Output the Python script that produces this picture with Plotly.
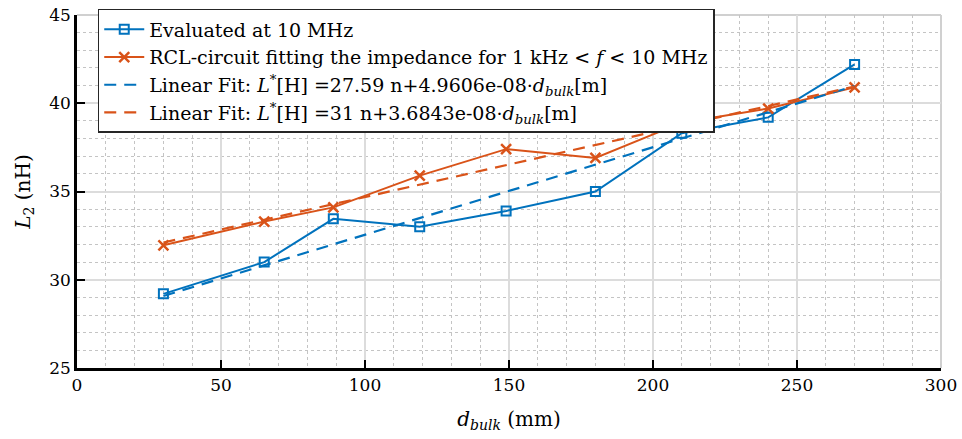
import plotly.graph_objects as go

d_bulk = [30, 65, 89, 119, 149, 180, 210, 240, 270]
L_eval = [29.2, 31.0, 33.45, 33.0, 33.9, 35.0, 38.3, 39.2, 42.2]
L_rcl = [31.95, 33.3, 34.1, 35.9, 37.4, 36.9, 38.9, 39.7, 40.9]
fit_x = [30, 270]
fit_eval = [29.08, 40.98]
fit_rcl = [32.11, 40.95]

x_ticks = [0, 50, 100, 150, 200, 250, 300]
y_ticks = [25, 30, 35, 40, 45]

BLUE = "#0072BD"
ORANGE = "#D95319"
FONT = "DejaVu Serif"

fig = go.Figure()
fig.add_trace(go.Scatter(
    x=d_bulk, y=L_eval, mode="lines+markers",
    name="Evaluated at 10 MHz",
    line=dict(color=BLUE, width=2),
    marker=dict(symbol="square-open", size=9, color=BLUE, line=dict(width=2, color=BLUE)),
))
fig.add_trace(go.Scatter(
    x=d_bulk, y=L_rcl, mode="lines+markers",
    name="RCL-circuit fitting the impedance for 1 kHz &lt; <i>f</i> &lt; 10 MHz",
    line=dict(color=ORANGE, width=2),
    marker=dict(symbol="x-thin-open", size=10, color=ORANGE, line=dict(width=2.5, color=ORANGE)),
))
fig.add_trace(go.Scatter(
    x=fit_x, y=fit_eval, mode="lines",
    name="Linear Fit: <i>L</i><sup>*</sup>[H] =27.59 n+4.9606e-08·<i>d</i><sub><i>bulk</i></sub>[m]",
    line=dict(color=BLUE, width=2.2, dash="12px,8px"),
))
fig.add_trace(go.Scatter(
    x=fit_x, y=fit_rcl, mode="lines",
    name="Linear Fit: <i>L</i><sup>*</sup>[H] =31 n+3.6843e-08·<i>d</i><sub><i>bulk</i></sub>[m]",
    line=dict(color=ORANGE, width=2.2, dash="12px,8px"),
))

axis_common = dict(
    showline=True, linecolor="black", linewidth=2.5,
    ticks="inside", ticklen=8, tickwidth=2, tickcolor="black",
    showgrid=True, gridcolor="#dcdcdc", gridwidth=1.5,
    zeroline=False, automargin=False, ticklabeloverflow="allow",
    tickfont=dict(family=FONT, size=17, color="black"),
)

fig.update_xaxes(
    range=[0, 300], tickvals=x_ticks, ticktext=[str(v) for v in x_ticks],
    title=dict(text="<i>d</i><sub><i>bulk</i></sub> (mm)", font=dict(family=FONT, size=20, color="black"), standoff=18),
    minor=dict(dtick=10, showgrid=True, gridcolor="#c4c4c4", griddash="dot", gridwidth=1),
    **axis_common,
)
fig.update_yaxes(
    range=[25, 45], tickvals=y_ticks, ticktext=[str(v) for v in y_ticks],
    title=dict(text="<i>L</i><sub>2</sub> (nH)", font=dict(family=FONT, size=20, color="black"), standoff=14),
    minor=dict(dtick=1, showgrid=True, gridcolor="#c4c4c4", griddash="dot", gridwidth=1),
    **axis_common,
)

fig.update_layout(
    width=962, height=439,
    margin=dict(l=77, r=21, t=15, b=71, autoexpand=False),
    plot_bgcolor="white", paper_bgcolor="white",
    font=dict(family=FONT, color="black"),
    legend=dict(
        x=0.024, y=1.017, xanchor="left", yanchor="top",
        bgcolor="white", bordercolor="#262626", borderwidth=1.5,
        font=dict(family=FONT, size=19, color="black"),
        tracegroupgap=0, itemwidth=40,
    ),
    shapes=[
        dict(type="line", xref="paper", yref="paper", x0=0, x1=1, y0=1, y1=1,
             line=dict(color="#d0d0d0", width=2), layer="below"),
        dict(type="line", xref="paper", yref="paper", x0=1, x1=1, y0=0, y1=1,
             line=dict(color="#d0d0d0", width=2), layer="below"),
    ],
)

# remove the browser's default 8px body margin so the figure fills the window exactly
fig.write_html(
    "out.html",
    config={"displayModeBar": False},
    post_script="document.body.style.margin='0';document.body.style.overflow='hidden';",
)
